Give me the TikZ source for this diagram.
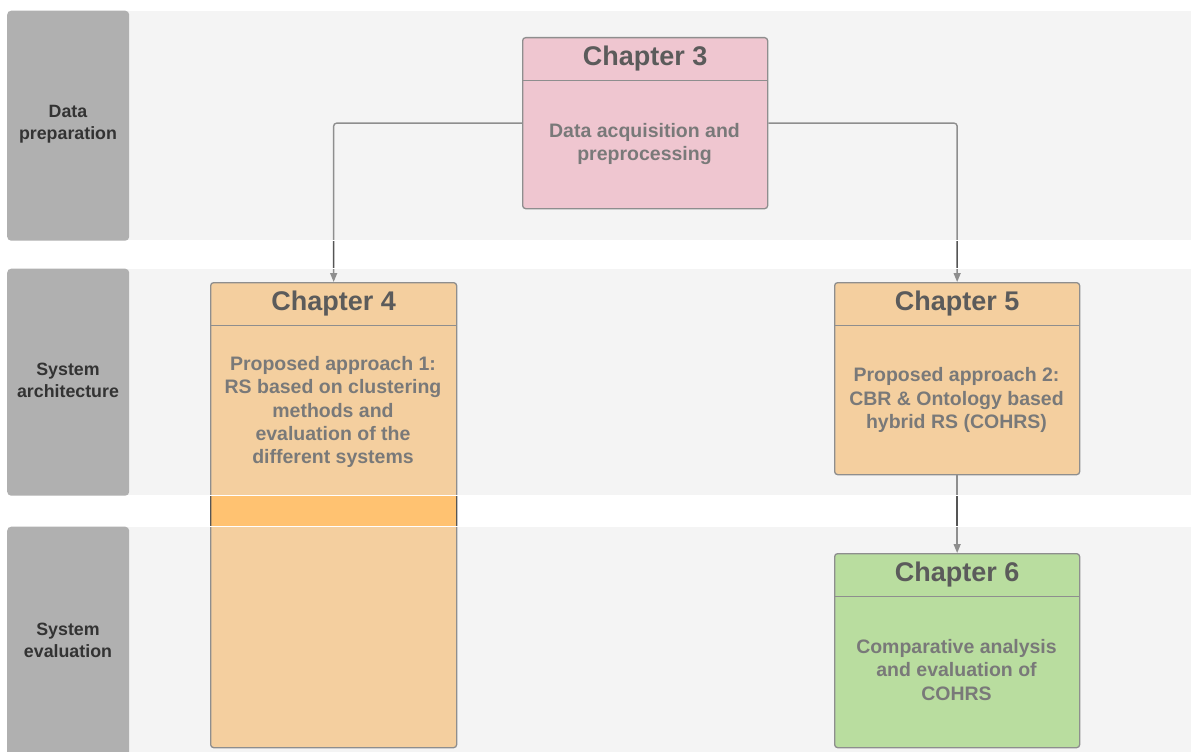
\documentclass[tikz,border=0pt]{standalone}
\usepackage{fontspec}
\setmainfont{Liberation Sans}
\usetikzlibrary{arrows.meta,calc}
\definecolor{pinkc}{HTML}{F7B3C3}
\definecolor{orangec}{HTML}{FFC271}
\definecolor{greenc}{HTML}{9DD971}
\definecolor{linec}{HTML}{555555}
\definecolor{lanec}{HTML}{E4E4E4}
\definecolor{labelc}{HTML}{B0B0B0}
\definecolor{labeltext}{HTML}{333333}
\definecolor{bodytext}{HTML}{333333}
\begin{document}
\begin{tikzpicture}[x=1pt,y=-1pt,
  box/.style={draw=linec, line width=1.3pt, rounded corners=3pt, inner sep=0pt, anchor=north west},
  divider/.style={draw=linec, line width=1.3pt},
  hdtext/.style={font=\bfseries\fontsize{27}{32}\selectfont, text=black, inner sep=0pt},
  bodytxt/.style={font=\bfseries\fontsize{19.5}{23.4}\selectfont, text=bodytext, align=center, inner sep=0pt},
  conn/.style={draw=linec, line width=1.4pt, rounded corners=3pt, -{Triangle[width=7pt,length=9pt]}},
  lane/.style={fill=lanec, fill opacity=0.4, draw=white, line width=1.2pt},
  lanebox/.style={fill=labelc, rounded corners=4pt, inner sep=0pt, anchor=north west},
  lanetxt/.style={font=\bfseries\fontsize{17.8}{22}\selectfont, text=labeltext, align=center, inner sep=0pt}]
\useasboundingbox (0,0) rectangle (1191,752);
\fill[white] (0,0) rectangle (1191,752);

% chapter boxes
\node[box, fill=pinkc,   minimum width=245pt, minimum height=171pt] (ch3) at (522,37) {};
\node[box, fill=orangec, minimum width=246pt, minimum height=465pt] (ch4) at (210,282) {};
\node[box, fill=orangec, minimum width=245pt, minimum height=192pt] (ch5) at (834,282) {};
\node[box, fill=greenc,  minimum width=245pt, minimum height=194pt] (ch6) at (834,553) {};

\foreach \c in {ch3,ch4,ch5,ch6}{
  \draw[divider] ($(\c.north west)+(0,43.5)$) -- ($(\c.north east)+(0,43.5)$);
}

\node[hdtext] (h3) at ($(ch3.north)+(0,22)$) {Chapter 3};
\node[hdtext] (h4) at ($(ch4.north)+(0,22)$) {Chapter 4};
\node[hdtext] (h5) at ($(ch5.north)+(0,22)$) {Chapter 5};
\node[hdtext] (h6) at ($(ch6.north)+(0,22)$) {Chapter 6};

\node[bodytxt] (b3) at (644.5,144) {Data acquisition and\\preprocessing};
\node[bodytxt] (b4) at (333,412) {Proposed approach 1:\\RS based on clustering\\methods and\\evaluation of the\\different systems};
\node[bodytxt] (b5) at (956.5,400) {Proposed approach 2:\\CBR \& Ontology based\\hybrid RS (COHRS)};
\node[bodytxt] (b6) at (956.5,670) {Comparative analysis\\and evaluation of\\COHRS};

% connectors
\draw[conn] (ch3.west) -| (ch4.north);
\draw[conn] (ch3.east) -| (ch5.north);
\draw[conn] (ch5.south) -- (ch6.north);

% lanes (semi-transparent overlay)
\path[lane] (7,10.5) rectangle (1200,240.5);
\path[lane] (7,268.5) rectangle (1200,495.5);
\path[lane] (7,526.5) rectangle (1200,770);

% lane labels
\node[lanebox, minimum width=122pt, minimum height=230pt] (l1) at (7,10.5) {};
\node[lanebox, minimum width=122pt, minimum height=227pt] (l2) at (7,268.5) {};
\node[lanebox, minimum width=122pt, minimum height=245pt] (l3) at (7,526.5) {};
\node[lanetxt] (t1) at (68,124) {Data\\preparation};
\node[lanetxt] (t2) at (68,380) {System\\architecture};
\node[lanetxt] (t3) at (68,640) {System\\evaluation};
\end{tikzpicture}
\end{document}
